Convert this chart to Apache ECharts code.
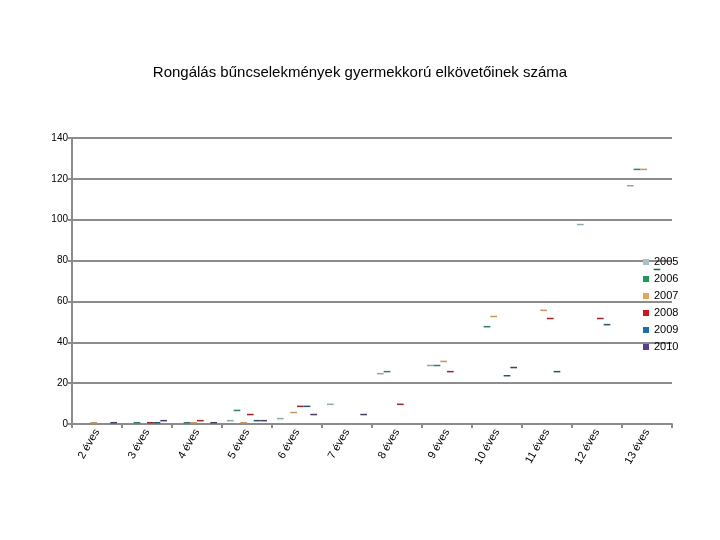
<!DOCTYPE html>
<html>
<head>
<meta charset="utf-8">
<script src="https://cdn.jsdelivr.net/npm/echarts@6/dist/echarts.min.js"></script>
<style>
  html, body { margin: 0; padding: 0; background: #fff; }
  #chart { width: 720px; height: 540px; }
</style>
</head>
<body>
<div id="chart"></div>
<script>
var categories = ['2 éves', '3 éves', '4 éves', '5 éves', '6 éves', '7 éves',
                  '8 éves', '9 éves', '10 éves', '11 éves', '12 éves', '13 éves'];
var years = ['2005', '2006', '2007', '2008', '2009', '2010'];

// a hiányzó (nem látható) értékek null
var d2005 = [null, null, null, 2, 3, 10, 25, 29, null, null, 98, 117];
var d2006 = [null, 1, 1, 7, null, null, 26, 29, 48, null, null, 125];
var d2007 = [1, null, 1, 1, 6, null, null, 31, 53, 56, null, 125];
var d2008 = [null, 1, 2, 5, 9, null, 10, 26, null, 52, 52, null];
var d2009 = [null, 1, null, 2, 9, null, null, null, 24, 26, 49, 76];
var d2010 = [1, 2, 1, 2, 5, 5, null, null, 28, null, null, null];

var yTicks = [0, 20, 40, 60, 80, 100, 120, 140];

var values = [d2005, d2006, d2007, d2008, d2009, d2010];
var legendColors = ['#a9c1c9', '#1f9a5b', '#e8a459', '#d3141f', '#1c6fae', '#5b3d8e'];
var dashColors = ['#8fa9b0', '#2f7e6c', '#c7955c', '#9b2428', '#24566c', '#4a3a66'];

var chart = echarts.init(document.getElementById('chart'));

var series = years.map(function (y, i) {
    return {
        name: y,
        type: 'pictorialBar',
        symbol: 'rect',
        symbolSize: ['100%', 1.5],
        symbolPosition: 'end',
        barGap: '0%',
        barCategoryGap: '20%',
        itemStyle: { color: dashColors[i] },
        data: values[i]
    };
});

chart.setOption({
    animation: false,
    textStyle: { fontFamily: 'Liberation Sans, Arial, sans-serif' },
    title: {
        text: 'Rongálás bűncselekmények gyermekkorú elkövetőinek száma',
        left: 'center',
        top: 60,
        textStyle: { fontSize: 15, fontWeight: 'normal', color: '#000' }
    },
    legend: {
        orient: 'vertical',
        left: 638,
        top: 251,
        icon: 'rect',
        itemWidth: 6,
        itemHeight: 6,
        itemGap: 5,
        textStyle: { fontSize: 11, color: '#000', lineHeight: 12 },
        data: years.map(function (y, i) {
            return { name: y, itemStyle: { color: legendColors[i] } };
        })
    },
    grid: { left: 72, right: 48, top: 138, bottom: 116 },
    xAxis: {
        type: 'category',
        data: categories,
        axisLine: { lineStyle: { color: '#8c8c8c', width: 2 } },
        axisTick: { show: true, length: 4, lineStyle: { color: '#8c8c8c', width: 2 } },
        axisLabel: { rotate: 60, interval: 0, fontSize: 11, color: '#000', margin: 6 }
    },
    yAxis: {
        type: 'value',
        min: yTicks[0],
        max: yTicks[yTicks.length - 1],
        interval: 20,
        axisLine: { show: true, lineStyle: { color: '#8c8c8c', width: 2 } },
        axisTick: { show: true, length: 4, lineStyle: { color: '#8c8c8c', width: 2 } },
        axisLabel: { fontSize: 10, color: '#000', margin: 4 },
        splitLine: { lineStyle: { color: '#8c8c8c', width: 2 } }
    },
    series: series
});
</script>
</body>
</html>
